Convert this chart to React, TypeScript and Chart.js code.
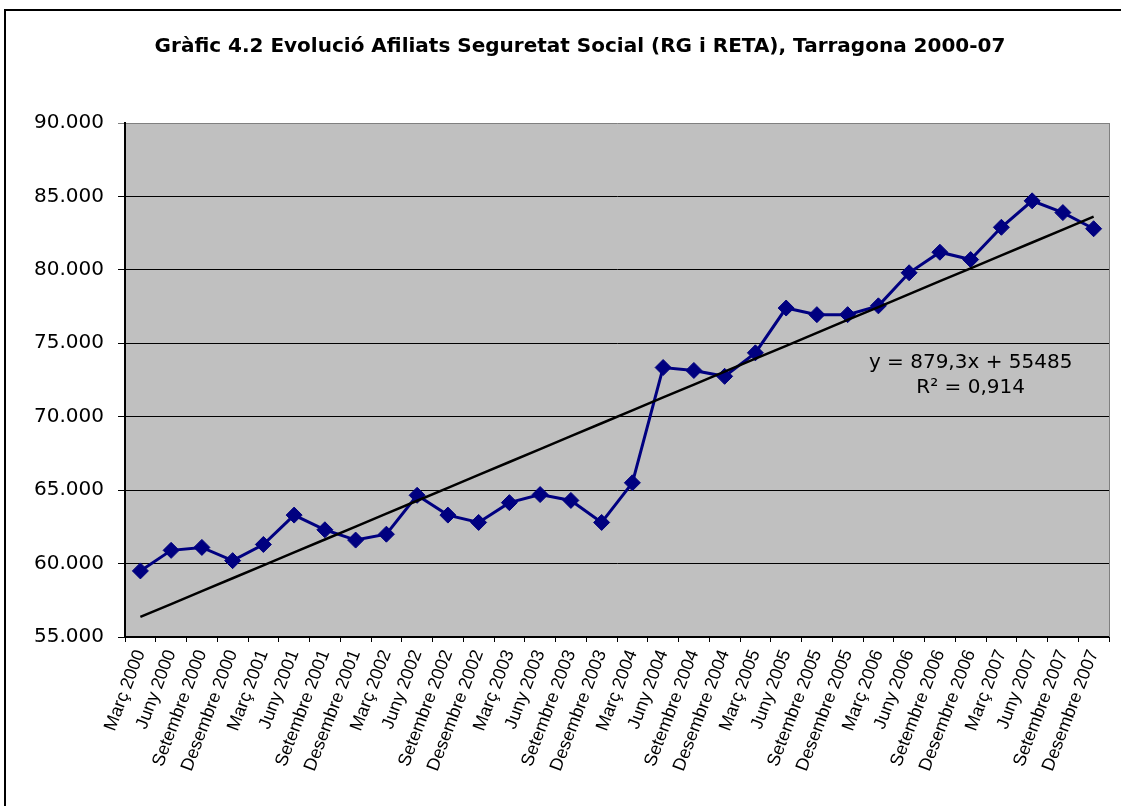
import React, { useEffect, useRef } from "react";
import { Chart, registerables } from "chart.js";

Chart.register(...registerables);

const titleText =
  "Gràfic 4.2 Evolució Afiliats Seguretat Social (RG i RETA), Tarragona 2000-07";

const categories = [
  "Març 2000", "Juny 2000", "Setembre 2000", "Desembre 2000",
  "Març 2001", "Juny 2001", "Setembre 2001", "Desembre 2001",
  "Març 2002", "Juny 2002", "Setembre 2002", "Desembre 2002",
  "Març 2003", "Juny 2003", "Setembre 2003", "Desembre 2003",
  "Març 2004", "Juny 2004", "Setembre 2004", "Desembre 2004",
  "Març 2005", "Juny 2005", "Setembre 2005", "Desembre 2005",
  "Març 2006", "Juny 2006", "Setembre 2006", "Desembre 2006",
  "Març 2007", "Juny 2007", "Setembre 2007", "Desembre 2007",
];

const afiliats = [
  59500, 60900, 61100, 60200,
  61300, 63300, 62300, 61600,
  62000, 64650, 63300, 62800,
  64150, 64700, 64300, 62800,
  65500, 73350, 73150, 72750,
  74350, 77400, 76950, 76950,
  77550, 79800, 81200, 80700,
  82900, 84700, 83900, 82800,
];

// Linear trend shown on the chart: y = 879,3x + 55485 (x = 1..32)
const trendSlope = 879.3;
const trendIntercept = 55485;
const trendLabelLines = ["y = 879,3x + 55485", "R² = 0,914"];

const yMin = 55000;
const yMax = 90000;
const yStep = 5000;

const trendValues = categories.map((_, i) => trendSlope * (i + 1) + trendIntercept);

const FONT = '"DejaVu Sans", "Liberation Sans", Arial, sans-serif';
const FONT_ARIAL = '"Liberation Sans", Arial, sans-serif';

const fmt = (v: number) =>
  String(Math.round(v)).replace(/\B(?=(\d{3})+(?!\d))/g, ".");

const decorPlugin = {
  id: "decor",
  beforeDraw(chart: any) {
    const { ctx, chartArea: a } = chart;
    ctx.save();
    ctx.fillStyle = "#C0C0C0";
    ctx.fillRect(a.left, a.top, a.right - a.left, a.bottom - a.top);
    ctx.restore();
  },
  beforeDatasetsDraw(chart: any) {
    const { ctx, chartArea: a } = chart;
    ctx.save();
    ctx.strokeStyle = "#808080";
    ctx.lineWidth = 1;
    ctx.beginPath();
    ctx.moveTo(a.right + 0.5, a.top);
    ctx.lineTo(a.right + 0.5, a.bottom);
    ctx.stroke();
    ctx.restore();
  },
  afterDraw(chart: any) {
    const { ctx } = chart;
    const xs = chart.scales.x;
    const ys = chart.scales.y;
    ctx.save();
    ctx.fillStyle = "#000";
    ctx.textAlign = "center";
    ctx.textBaseline = "middle";
    ctx.font = `bold 20px ${FONT}`;
    ctx.fillText(titleText, 580, 47);
    ctx.font = `20px ${FONT}`;
    const lx = xs.getPixelForValue(27);
    ctx.fillText(trendLabelLines[0], lx, ys.getPixelForValue(73650));
    ctx.fillText(trendLabelLines[1], lx, ys.getPixelForValue(71950));
    ctx.restore();
  },
};

export default function App() {
  const ref = useRef<HTMLCanvasElement | null>(null);

  useEffect(() => {
    if (!ref.current) return;
    const chart = new Chart(ref.current, {
      type: "line",
      data: {
        labels: categories,
        datasets: [
          {
            label: "Tendència",
            data: trendValues,
            borderColor: "#000000",
            borderWidth: 2.5,
            pointRadius: 0,
            fill: false,
            order: 0,
          },
          {
            label: "Afiliats",
            data: afiliats,
            borderColor: "#000080",
            backgroundColor: "#000080",
            borderWidth: 3,
            pointStyle: "rectRot",
            pointRadius: 8,
            pointBackgroundColor: "#000080",
            pointBorderColor: "#000080",
            pointBorderWidth: 1,
            tension: 0,
            fill: false,
            order: 1,
          },
        ],
      },
      options: {
        responsive: false,
        devicePixelRatio: 1,
        animation: false,
        layout: { padding: { top: 123, right: 12, left: 5, bottom: 0 } },
        plugins: {
          legend: { display: false },
          tooltip: { enabled: false },
          title: { display: false },
        },
        scales: {
          x: {
            offset: true,
            afterFit: (s: any) => {
              s.height = 169;
            },
            grid: {
              offset: true,
              drawOnChartArea: false,
              drawTicks: true,
              tickLength: 5,
              color: "#000",
            },
            border: { color: "#000", width: 2 },
            ticks: {
              autoSkip: false,
              minRotation: 69,
              maxRotation: 69,
              padding: 5,
              color: "#000",
              font: { family: FONT_ARIAL, size: 18 },
            },
          },
          y: {
            min: yMin,
            max: yMax,
            afterFit: (s: any) => {
              s.width = 120;
            },
            grid: {
              color: (c: any) => (c.tick && c.tick.value === yMax ? "#808080" : "#000"),
              lineWidth: 1,
              drawTicks: true,
              tickLength: 7,
            },
            border: { color: "#000", width: 2 },
            ticks: {
              stepSize: yStep,
              padding: 14,
              color: "#000",
              font: { family: FONT, size: 20 },
              callback: (v: any) => fmt(Number(v)),
            },
          },
        },
      },
      plugins: [decorPlugin],
    });
    return () => chart.destroy();
  }, []);

  return (
    <div
      style={{
        position: "fixed",
        left: 0,
        top: 0,
        width: 1121,
        height: 806,
        overflow: "hidden",
        background: "#fff",
      }}
    >
      <div
        style={{
          position: "absolute",
          left: 4,
          top: 9,
          width: 1200,
          height: 900,
          border: "2px solid #000",
          boxSizing: "border-box",
        }}
      />
      <canvas
        ref={ref}
        width={1121}
        height={806}
        style={{ position: "absolute", left: 0, top: 0, width: 1121, height: 806 }}
      />
    </div>
  );
}
